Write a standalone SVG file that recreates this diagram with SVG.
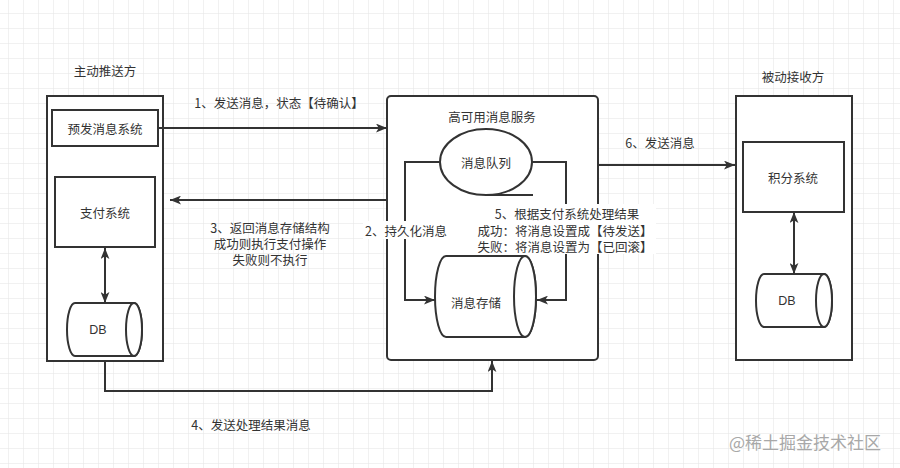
<svg xmlns="http://www.w3.org/2000/svg" width="900" height="468" viewBox="0 0 900 468">
<defs>
<pattern id="grid" x="8" y="13" width="15" height="15" patternUnits="userSpaceOnUse">
<path d="M0 0H15M0 0V15" fill="none" stroke="#e4e4e4" stroke-width="1"/>
</pattern>
<marker id="arr" viewBox="0 0 10 8" refX="10" refY="4" markerWidth="11" markerHeight="9" markerUnits="userSpaceOnUse" orient="auto-start-reverse">
<path d="M0 0L10 4L0 8L2.5 4Z" fill="#333"/>
</marker>
<style>
.box{fill:#fff;stroke:#333;stroke-width:2}
.ln{fill:none;stroke:#333;stroke-width:2}
.t{font-family:"Noto Sans CJK SC","Microsoft YaHei",sans-serif;font-size:12.5px;fill:#333;text-anchor:middle;dominant-baseline:central}
.d{font-family:"Liberation Sans",Arial,sans-serif;font-size:12.5px;fill:#333;text-anchor:middle;dominant-baseline:central}
</style>
</defs>
<rect width="900" height="468" fill="#fff"/>
<rect width="900" height="468" fill="url(#grid)"/>

<g id="sender">
<rect class="box" x="47" y="96" width="116" height="265"/>
<text class="t" x="105" y="70">主动推送方</text>
</g>
<g id="pre-send">
<rect class="box" x="52" y="110" width="106" height="36"/>
<text class="t" x="105" y="128">预发消息系统</text>
</g>
<g id="pay">
<rect class="box" x="55" y="177" width="100" height="70"/>
<text class="t" x="105" y="212">支付系统</text>
</g>
<g id="db-left">
<path class="box" d="M75 303H134A8 26.5 0 0 1 134 356H75A8 26.5 0 0 1 75 303Z"/>
<ellipse class="box" cx="134" cy="329.5" rx="8" ry="26.5"/>
<text class="d" x="98" y="330">DB</text>
</g>

<g id="mq-service">
<rect class="box" x="387" y="96" width="211" height="264" rx="4"/>
<text class="t" x="492" y="116">高可用消息服务</text>
</g>
<g id="mq">
<ellipse class="box" cx="486" cy="162" rx="46" ry="33"/>
<text class="t" x="486" y="162">消息队列</text>
</g>
<g id="store">
<path class="box" d="M446 256H525A11 40.5 0 0 1 525 337H446A11 40.5 0 0 1 446 256Z"/>
<ellipse class="box" cx="525" cy="296.5" rx="11" ry="40.5"/>
<text class="t" x="476" y="302">消息存储</text>
</g>

<g id="receiver">
<rect class="box" x="736" y="96" width="116" height="264"/>
<text class="t" x="793" y="76">被动接收方</text>
</g>
<g id="points">
<rect class="box" x="743" y="142" width="101" height="70"/>
<text class="t" x="793" y="177">积分系统</text>
</g>
<g id="db-right">
<path class="box" d="M764 274H824A8 26.5 0 0 1 824 327H764A8 26.5 0 0 1 764 274Z"/>
<ellipse class="box" cx="824" cy="300.5" rx="8" ry="26.5"/>
<text class="d" x="787" y="301">DB</text>
</g>

<g id="connectors">
<path class="ln" d="M158 128H387" marker-end="url(#arr)"/>
<path class="ln" d="M387 200H170" marker-end="url(#arr)"/>
<path class="ln" d="M598 165H735" marker-end="url(#arr)"/>
<path class="ln" d="M440 162H405V300H435" marker-end="url(#arr)"/>
<path class="ln" d="M532 162H566V300H537" marker-end="url(#arr)"/>
<path class="ln" d="M105 361V391H492V361" marker-end="url(#arr)"/>
<path class="ln" d="M105 248V303" marker-start="url(#arr)" marker-end="url(#arr)"/>
<path class="ln" d="M794 212V274" marker-start="url(#arr)" marker-end="url(#arr)"/>
<path class="ln" d="M486 195H533"/>
<text class="t" x="279" y="102">1、发送消息，状态【待确认】</text>
<rect x="363" y="221" width="86" height="18" fill="#fff"/>
<text class="t" x="406" y="230">2、持久化消息</text>
<text class="t" x="270" y="227">3、返回消息存储结构<tspan x="270" dy="16">成功则执行支付操作</tspan><tspan x="270" dy="16">失败则不执行</tspan></text>
<text class="t" x="251" y="424">4、发送处理结果消息</text>
<rect x="474" y="204" width="182" height="50" fill="#fff"/>
<text class="t" x="567" y="213">5、根据支付系统处理结果<tspan x="565" dy="16.5">成功：将消息设置成【待发送】</tspan><tspan x="565" dy="16.5">失败：将消息设置为【已回滚】</tspan></text>
<text class="t" x="660" y="142">6、发送消息</text>
</g>
<text x="805" y="441" style="font-family:'Noto Sans CJK SC',sans-serif;font-size:17px;fill:#a8a8a8;text-anchor:middle;dominant-baseline:central">@稀土掘金技术社区</text>
</svg>
